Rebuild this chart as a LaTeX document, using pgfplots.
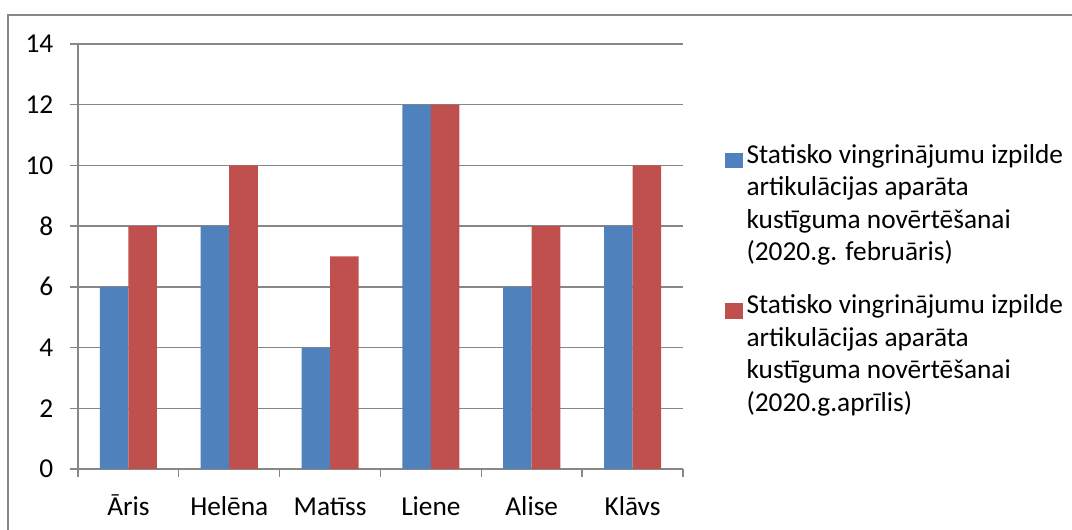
\documentclass[border=0pt]{standalone}
\usepackage{fontspec}
\setmainfont{Carlito}
\usepackage{pgfplots}
\pgfplotsset{compat=1.18}
\definecolor{serA}{HTML}{4F81BD}
\definecolor{serB}{HTML}{C0504D}
\definecolor{gridc}{HTML}{878787}
\begin{document}
\begin{tikzpicture}
\path[use as bounding box] (0,0) rectangle (804pt,397.5pt);
\draw[gridc, line width=1pt] (6pt,-2pt) -- (6pt,386.25pt) -- (806pt,386.25pt);
\begin{axis}[
  at={(58.5pt,45.75pt)}, anchor=south west,
  width=453.75pt, height=318.75pt, scale only axis,
  font=\fontsize{20.5}{24.4}\selectfont,
  ticklabel style={font=\fontsize{20.5}{24.4}\selectfont},
  ymin=0, ymax=14, ytick={0,2,...,14},
  xmin=-0.5, xmax=5.5,
  xtick={-0.5,0.5,...,5.5}, xticklabels={},
  extra x ticks={0,1,2,3,4,5},
  extra x tick labels={Āris,Helēna,Matīss,Liene,Alise,Klāvs},
  extra x tick style={major tick length=0pt},
  xticklabel style={yshift=-14pt, text height=17pt, text depth=5pt},
  yticklabel style={xshift=-9pt},
  axis x line*=bottom, axis y line*=left,
  axis line style={gridc, line width=1pt, -},
  ymajorgrids, grid style={gridc, line width=1pt},
  tick style={gridc, line width=1pt},
  tick align=outside, major tick length=6pt,
  ybar=0pt, bar width=21.4pt,
  /pgf/number format/assume math mode=true,
  legend style={at={(1.0694,0.765)}, anchor=north west, draw=none, fill=none,
    inner sep=0pt, row sep=24pt, column sep=3pt,
    nodes={align=left, inner sep=0pt, font=\fontsize{20.5}{24.4}\selectfont}},
  legend cell align=left,
  legend image code/.code={\fill[#1] (0pt,26.5pt) rectangle (13pt,38pt);},
]
\addplot[fill=serA, draw=none] coordinates {(0,6) (1,8) (2,4) (3,12) (4,6) (5,8)};
\addlegendentry{Statisko vingrinājumu izpilde\\artikulācijas aparāta\\kustīguma novērtēšanai\\(2020.g. februāris)}
\addplot[fill=serB, draw=none] coordinates {(0,8) (1,10) (2,7) (3,12) (4,8) (5,10)};
\addlegendentry{Statisko vingrinājumu izpilde\\artikulācijas aparāta\\kustīguma novērtēšanai\\(2020.g.aprīlis)}
\end{axis}
\end{tikzpicture}
\end{document}
